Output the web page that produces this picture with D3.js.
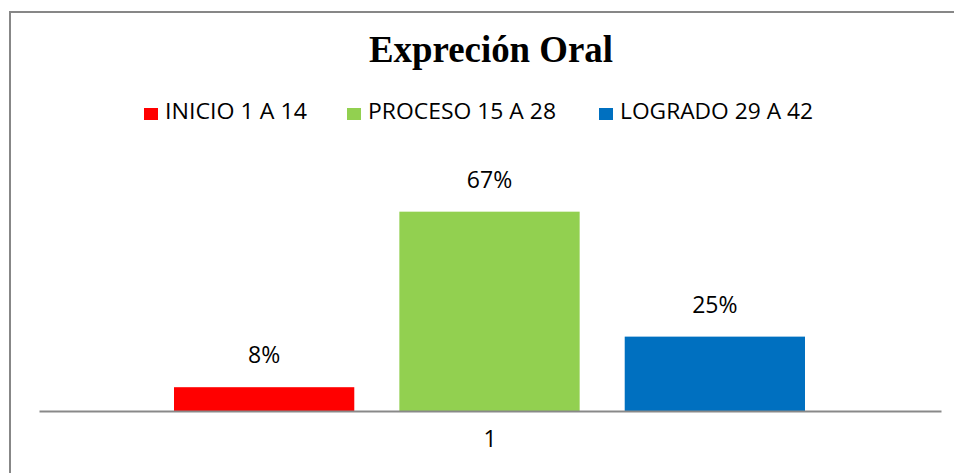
<!DOCTYPE html>
<html>
<head>
<meta charset="utf-8">
<script src="https://cdn.jsdelivr.net/npm/d3@7"></script>
<style>
  body { margin: 0; background: #fff; }
  svg { display: block; }
</style>
</head>
<body>
<div id="chart"></div>
<script>
// chart data
let categories = ["1"];
let seriesNames = ["INICIO 1 A 14", "PROCESO 15 A 28", "LOGRADO 29 A 42"];
let seriesValues = [8, 67, 25];
let seriesColors = ["#ff0000", "#92d050", "#0070c0"];
let chartTitle = "Expreción Oral";

let svgWidth = 954;
let svgHeight = 473;

// plot area
let margin = { top: 173, left: 39, right: 13, bottom: 62 };
let width = svgWidth - margin.left - margin.right;
let height = svgHeight - margin.top - margin.bottom;

let svg = d3.select("#chart")
  .append("svg")
  .attr("width", svgWidth)
  .attr("height", svgHeight);

// outer frame (runs off the right/bottom edge like the source image)
svg.append("rect")
  .attr("x", 10)
  .attr("y", 12)
  .attr("width", 960)
  .attr("height", 480)
  .attr("fill", "none")
  .attr("stroke", "#878787")
  .attr("stroke-width", 2);

// title - source font is a narrow bold serif, so squeeze it to the same width
svg.append("text")
  .attr("x", 369)
  .attr("y", 62)
  .attr("font-family", "'Liberation Serif', 'Times New Roman', serif")
  .attr("font-weight", "bold")
  .attr("font-size", "37px")
  .attr("textLength", 244)
  .attr("lengthAdjust", "spacingAndGlyphs")
  .attr("fill", "#000")
  .text(chartTitle);

// legend
let legendX = [144, 347, 599];
let legendWidths = [142, 188, 193];
let legend = svg.append("g");
let legendItems = legend.selectAll("g")
  .data(seriesNames)
  .enter()
  .append("g")
  .attr("transform", (d, i) => `translate(${legendX[i]}, 108)`);

legendItems.append("rect")
  .attr("width", 14)
  .attr("height", 12)
  .attr("fill", (d, i) => seriesColors[i]);

legendItems.append("text")
  .attr("x", 21)
  .attr("y", 11)
  .attr("font-family", "'Open Sans', sans-serif")
  .attr("font-size", "21px")
  .attr("textLength", (d, i) => legendWidths[i])
  .attr("lengthAdjust", "spacingAndGlyphs")
  .attr("fill", "#000")
  .text(d => d);

let chartGroup = svg.append("g")
  .attr("transform", `translate(${margin.left}, ${margin.top})`);

// scales
let xScale = d3.scaleBand()
  .domain(categories)
  .range([0, width]);

let seriesScale = d3.scaleBand()
  .domain(seriesNames)
  .range([135, width - 136])
  .paddingInner(0.2);

let yScale = d3.scaleLinear()
  .domain([0, 80])
  .range([height, 0]);

// bars
let barData = seriesNames.map((name, i) => ({ name: name, value: seriesValues[i], color: seriesColors[i] }));

chartGroup.selectAll("rect.bar")
  .data(barData)
  .enter()
  .append("rect")
  .attr("class", "bar")
  .attr("x", d => xScale(categories[0]) + seriesScale(d.name))
  .attr("y", d => yScale(d.value))
  .attr("width", seriesScale.bandwidth())
  .attr("height", d => height - yScale(d.value))
  .attr("fill", d => d.color);

// value labels
chartGroup.selectAll("text.val")
  .data(barData)
  .enter()
  .append("text")
  .attr("class", "val")
  .attr("x", d => xScale(categories[0]) + seriesScale(d.name) + seriesScale.bandwidth() / 2)
  .attr("y", d => yScale(d.value) - 24)
  .attr("text-anchor", "middle")
  .attr("font-family", "'Open Sans', sans-serif")
  .attr("font-size", "23px")
  .attr("fill", "#000")
  .text(d => d.value + "%");

// x axis
let xAxis = d3.axisBottom(xScale).tickSize(0).tickPadding(20);
let axisG = chartGroup.append("g")
  .attr("transform", `translate(0, ${height})`)
  .call(xAxis);

axisG.select(".domain")
  .attr("stroke", "#898989")
  .attr("stroke-width", 2);

axisG.selectAll("text")
  .attr("font-family", "'Open Sans', sans-serif")
  .attr("font-size", "23px")
  .attr("fill", "#000");
</script>
</body>
</html>
